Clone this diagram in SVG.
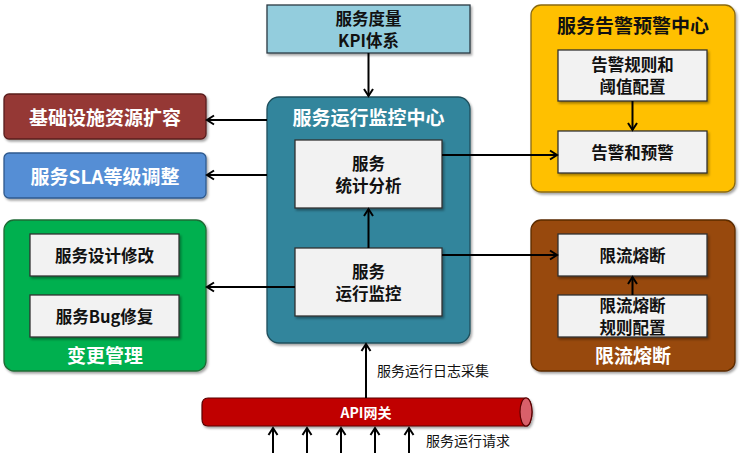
<svg xmlns="http://www.w3.org/2000/svg" width="741" height="458" viewBox="0 0 741 458">
<defs>
<marker id="ah" markerWidth="12" markerHeight="12" refX="10" refY="6" orient="auto" markerUnits="userSpaceOnUse">
<polyline points="3,1.5 10,6 3,10.5" fill="none" stroke="#000" stroke-width="2"/>
</marker>
<filter id="sh" x="-5%" y="-5%" width="115%" height="120%">
<feDropShadow dx="1.5" dy="2" stdDeviation="1.2" flood-color="#000" flood-opacity="0.35"/>
</filter>
</defs>
<style>
text{font-family:"Noto Sans CJK SC","Noto Sans",sans-serif;font-weight:bold;text-anchor:middle;dominant-baseline:central}
.inner{fill:#f2f2f2;stroke:#333;stroke-width:1.3}
.it{font-size:16.5px;fill:#111}
.wt{font-size:19px;fill:#fff}
.bt{font-size:19px;fill:#111}
.ln{stroke:#000;stroke-width:2;fill:none}
.lbl{font-size:14px;fill:#111;text-anchor:start;font-weight:normal}
</style>
<rect width="741" height="458" fill="#fff"/>

<g id="kpi">
<rect x="267" y="5" width="203" height="48" fill="#93cddd" stroke="#2b3a44" stroke-width="1.3" filter="url(#sh)"/>
<text class="it" x="368.5" y="18">服务度量</text>
<text class="it" x="368.5" y="40">KPI体系</text>
</g>

<g id="monitor-center">
<rect x="267" y="97" width="203" height="246" rx="12" fill="#31859c" stroke="#1f4f5c" stroke-width="1.3" filter="url(#sh)"/>
<text class="wt" x="368.5" y="116">服务运行监控中心</text>
</g>
<g id="stat">
<rect class="inner" x="295" y="140" width="147" height="68" filter="url(#sh)"/>
<text class="it" x="368.5" y="163">服务</text>
<text class="it" x="368.5" y="185">统计分析</text>
</g>
<g id="runmon">
<rect class="inner" x="295" y="248" width="147" height="68" filter="url(#sh)"/>
<text class="it" x="368.5" y="271">服务</text>
<text class="it" x="368.5" y="293">运行监控</text>
</g>

<g id="infra">
<rect x="4" y="94" width="202" height="45" rx="5" fill="#953735" stroke="#5a1f1e" stroke-width="1.3" filter="url(#sh)"/>
<text class="wt" x="105" y="116.5">基础设施资源扩容</text>
</g>
<g id="sla">
<rect x="4" y="153" width="202" height="45" rx="5" fill="#558ed5" stroke="#2f5a8f" stroke-width="1.3" filter="url(#sh)"/>
<text class="wt" x="105" y="175.5">服务SLA等级调整</text>
</g>

<g id="change">
<rect x="4" y="220" width="202" height="151" rx="10" fill="#00b050" stroke="#1f6b34" stroke-width="1.3" filter="url(#sh)"/>
<text class="wt" x="105" y="354">变更管理</text>
</g>
<g id="design">
<rect class="inner" x="30" y="234" width="149" height="42" filter="url(#sh)"/>
<text class="it" x="104.5" y="255">服务设计修改</text>
</g>
<g id="bugfix">
<rect class="inner" x="30" y="295" width="149" height="42" filter="url(#sh)"/>
<text class="it" x="104.5" y="316">服务Bug修复</text>
</g>

<g id="alert-center">
<rect x="531" y="5" width="204" height="187" rx="10" fill="#ffc000" stroke="#8a6a10" stroke-width="1.3" filter="url(#sh)"/>
<text class="bt" x="633" y="24">服务告警预警中心</text>
</g>
<g id="alert-rules">
<rect class="inner" x="558" y="50" width="149" height="51" filter="url(#sh)"/>
<text class="it" x="632.5" y="64">告警规则和</text>
<text class="it" x="632.5" y="86">阈值配置</text>
</g>
<g id="alert">
<rect class="inner" x="558" y="131" width="149" height="42" filter="url(#sh)"/>
<text class="it" x="632.5" y="152">告警和预警</text>
</g>

<g id="limit-center">
<rect x="531" y="220" width="204" height="151" rx="10" fill="#984807" stroke="#5a2a05" stroke-width="1.3" filter="url(#sh)"/>
<text class="wt" x="633" y="354">限流熔断</text>
</g>
<g id="limit">
<rect class="inner" x="558" y="234" width="149" height="42" filter="url(#sh)"/>
<text class="it" x="632.5" y="255">限流熔断</text>
</g>
<g id="limit-rules">
<rect class="inner" x="558" y="295" width="149" height="42" filter="url(#sh)"/>
<text class="it" x="632.5" y="305">限流熔断</text>
<text class="it" x="632.5" y="327">规则配置</text>
</g>

<g id="gateway">
<path d="M208,398 L526,398 A6,14 0 0 1 526,426 L208,426 Q202,426 202,419 L202,405 Q202,398 208,398 Z" fill="#c00000" stroke="#5a0000" stroke-width="1.2" filter="url(#sh)"/>
<ellipse cx="526" cy="412" rx="6" ry="14" fill="#d9606a" stroke="#5a0000" stroke-width="1.2"/>
<text x="366" y="412" style="font-size:14px;fill:#fff">API网关</text>
</g>

<g id="connectors">
<line class="ln" x1="368.5" y1="53" x2="368.5" y2="96" marker-end="url(#ah)"/>
<line class="ln" x1="267" y1="120" x2="207" y2="120" marker-end="url(#ah)"/>
<line class="ln" x1="267" y1="175" x2="207" y2="175" marker-end="url(#ah)"/>
<line class="ln" x1="295" y1="287" x2="207" y2="287" marker-end="url(#ah)"/>
<line class="ln" x1="368.5" y1="248" x2="368.5" y2="209" marker-end="url(#ah)"/>
<line class="ln" x1="442" y1="155" x2="557" y2="155" marker-end="url(#ah)"/>
<line class="ln" x1="442" y1="255" x2="557" y2="255" marker-end="url(#ah)"/>
<line class="ln" x1="632.5" y1="101" x2="632.5" y2="130" marker-end="url(#ah)"/>
<line class="ln" x1="632.5" y1="295" x2="632.5" y2="277" marker-end="url(#ah)"/>
<line class="ln" x1="366" y1="398" x2="366" y2="344" marker-end="url(#ah)"/>
<line class="ln" x1="273" y1="453" x2="273" y2="428" marker-end="url(#ah)"/>
<line class="ln" x1="307" y1="453" x2="307" y2="428" marker-end="url(#ah)"/>
<line class="ln" x1="341" y1="453" x2="341" y2="428" marker-end="url(#ah)"/>
<line class="ln" x1="375" y1="453" x2="375" y2="428" marker-end="url(#ah)"/>
<line class="ln" x1="409" y1="453" x2="409" y2="428" marker-end="url(#ah)"/>
<text class="lbl" x="377" y="370">服务运行日志采集</text>
<text class="lbl" x="426" y="440">服务运行请求</text>
</g>
</svg>
